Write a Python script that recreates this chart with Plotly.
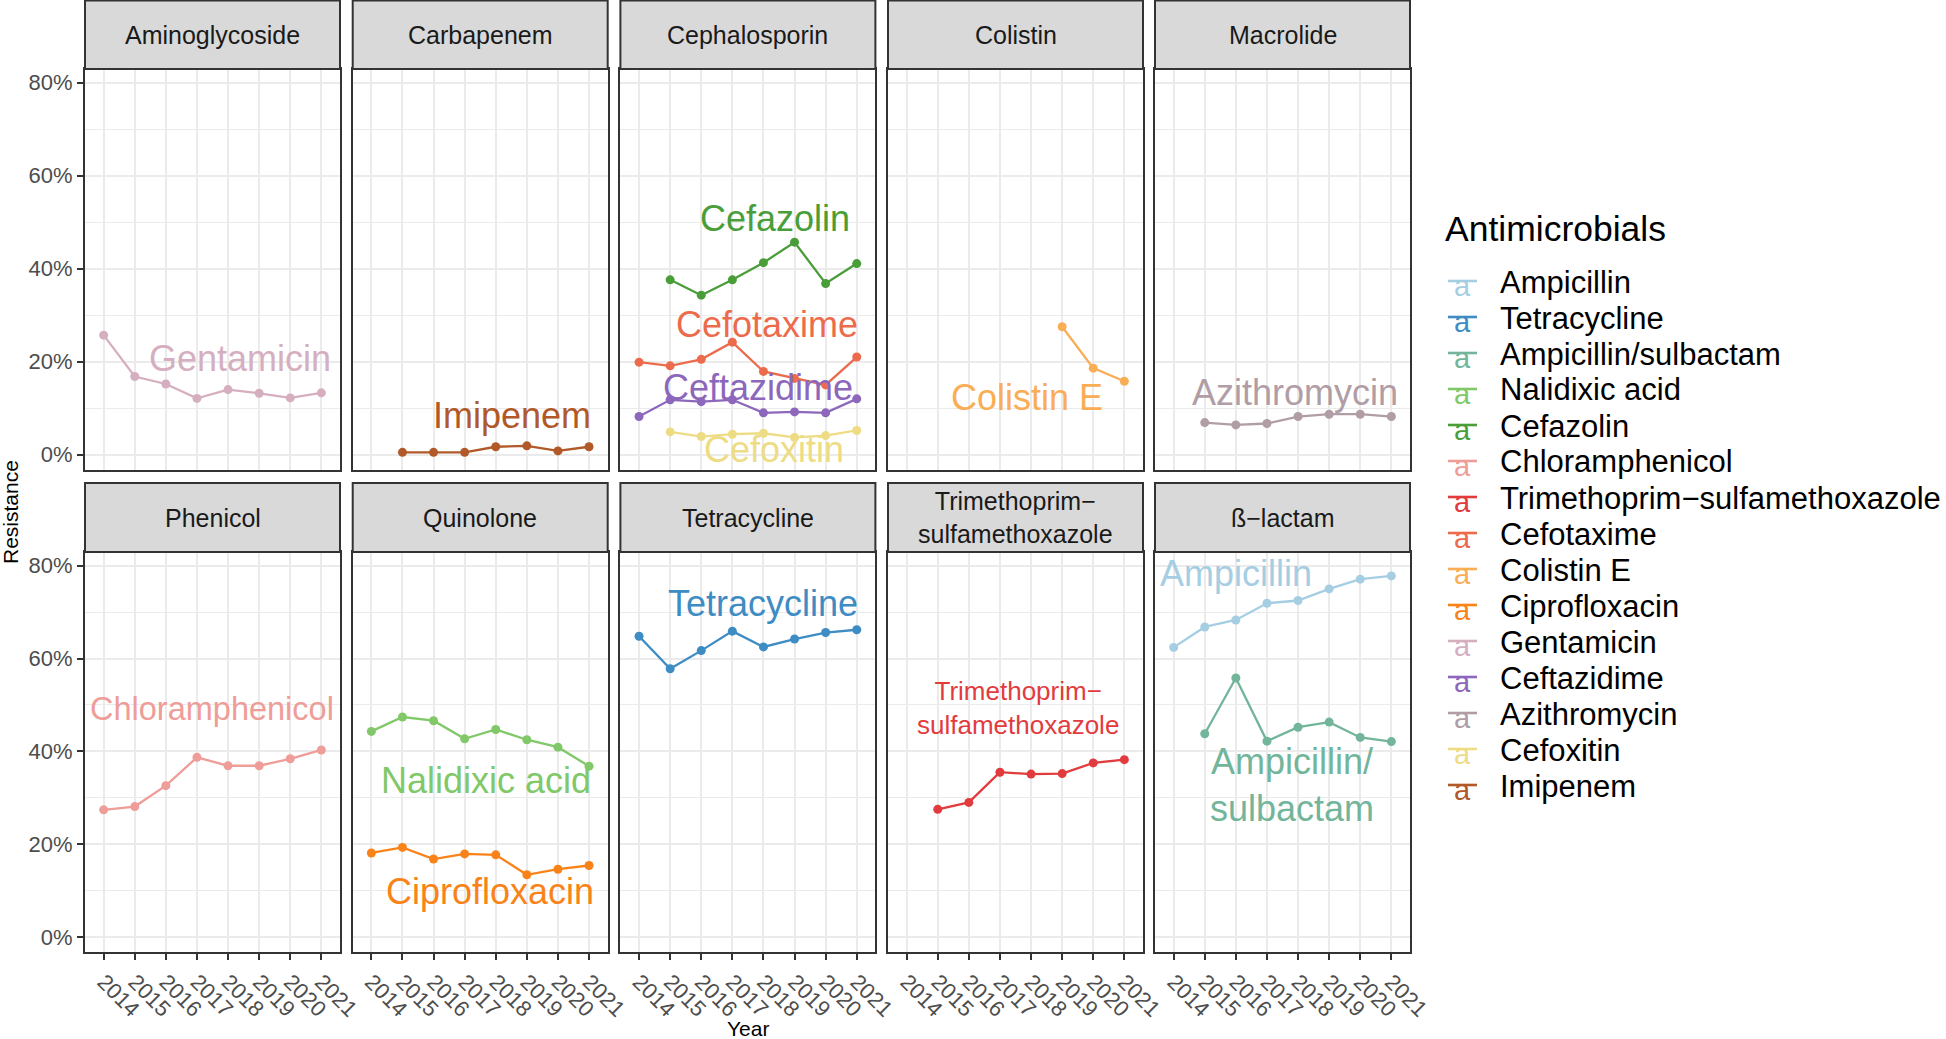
import plotly.graph_objects as go

# ---------------- data ----------------
years = [2014, 2015, 2016, 2017, 2018, 2019, 2020, 2021]

facets = ["Aminoglycoside", "Carbapenem", "Cephalosporin", "Colistin", "Macrolide",
          "Phenicol", "Quinolone", "Tetracycline",
          "Trimethoprim−<br>sulfamethoxazole", "ß−lactam"]

# legend order
antimicrobials = ["Ampicillin", "Tetracycline", "Ampicillin/sulbactam", "Nalidixic acid",
                  "Cefazolin", "Chloramphenicol", "Trimethoprim−sulfamethoxazole",
                  "Cefotaxime", "Colistin E", "Ciprofloxacin", "Gentamicin",
                  "Ceftazidime", "Azithromycin", "Cefoxitin", "Imipenem"]

drug_facet = [9, 7, 9, 6, 2, 5, 8, 2, 3, 6, 0, 2, 4, 2, 1]

colors = ["#A6CEE3", "#3E8CC4", "#72B59A", "#80C868", "#4A9E3A", "#EE9D98", "#E23B3E",
          "#EC6B4C", "#F9AE55", "#F98319", "#D5AFBF", "#8C67BB", "#B09DA5", "#EEDC85",
          "#B15928"]

# resistance (%) per year 2014..2021 (None = not tested)
ampicillin = [62.4, 66.8, 68.3, 71.9, 72.5, 75.0, 77.1, 77.8]
tetracycline = [64.8, 57.8, 61.7, 65.9, 62.5, 64.2, 65.6, 66.2]
ampicillin_sulbactam = [None, 43.8, 55.8, 42.2, 45.2, 46.3, 43.0, 42.1]
nalidixic_acid = [44.3, 47.4, 46.6, 42.7, 44.7, 42.5, 40.9, 36.8]
cefazolin = [None, 37.6, 34.3, 37.6, 41.3, 45.7, 36.8, 41.1]
chloramphenicol = [27.4, 28.1, 32.6, 38.7, 36.9, 36.9, 38.4, 40.3]
tmp_smx = [None, 27.5, 29.0, 35.5, 35.1, 35.2, 37.5, 38.2]
cefotaxime = [19.9, 19.1, 20.5, 24.2, 17.9, 16.4, 15.0, 21.0]
colistin_e = [None, None, None, None, None, 27.5, 18.6, 15.8]
ciprofloxacin = [18.1, 19.3, 16.8, 17.9, 17.7, 13.4, 14.6, 15.4]
gentamicin = [25.7, 16.8, 15.2, 12.1, 14.0, 13.2, 12.2, 13.3]
ceftazidime = [8.2, 11.8, 11.4, 11.8, 9.0, 9.2, 9.0, 12.0]
azithromycin = [None, 6.9, 6.4, 6.7, 8.2, 8.7, 8.7, 8.2]
cefoxitin = [None, 4.9, 3.9, 4.4, 4.6, 3.7, 4.1, 5.2]
imipenem = [None, 0.5, 0.5, 0.5, 1.7, 1.9, 0.8, 1.7]

series = [ampicillin, tetracycline, ampicillin_sulbactam, nalidixic_acid, cefazolin,
          chloramphenicol, tmp_smx, cefotaxime, colistin_e, ciprofloxacin, gentamicin,
          ceftazidime, azithromycin, cefoxitin, imipenem]

# in-panel direct labels (text, year position, resistance position)
label_text = ["Ampicillin", "Tetracycline", "Ampicillin/<br>sulbactam", "Nalidixic acid",
              "Cefazolin", "Chloramphenicol", "Trimethoprim−<br>sulfamethoxazole",
              "Cefotaxime", "Colistin E", "Ciprofloxacin", "Gentamicin", "Ceftazidime",
              "Azithromycin", "Cefoxitin", "Imipenem"]
label_year = [2016.0, 2018.0, 2017.8, 2017.7, 2018.37, 2017.48, 2017.57, 2018.1, 2017.87,
              2017.81, 2018.37, 2017.82, 2017.89, 2018.35, 2018.53]
label_value = [78.3, 71.9, 32.8, 33.7, 50.8, 49.2, 49.3, 27.9, 12.4, 9.7, 20.6, 14.5, 13.4,
               1.2, 8.4]
label_size = [36, 36, 36, 36, 36, 32.5, 26, 36, 36, 36, 36, 36, 36, 36, 36]

yticks = [0, 20, 40, 60, 80]
yticklabels = ["0%", "20%", "40%", "60%", "80%"]

# ---------------- layout geometry ----------------
W, H = 1946, 1039
FONT = "Liberation Sans, Arial, Helvetica, sans-serif"
panel_left = [85, 352.7, 620.4, 888, 1155]
panel_w = 255
row_strip = [(0.5, 69), (483, 552)]
row_panel = [(69, 470), (552, 952.3)]


def px(x):
    return x / W


def py(y):
    return 1 - y / H


fig = go.Figure()

for i, name in enumerate(antimicrobials):
    k = drug_facet[i] + 1
    fig.add_trace(go.Scatter(
        x=years, y=series[i], mode="lines+markers", name=name,
        line=dict(color=colors[i], width=2.3),
        marker=dict(color=colors[i], size=9),
        connectgaps=False, showlegend=False,
        xaxis="x" if k == 1 else f"x{k}", yaxis="y" if k == 1 else f"y{k}",
    ))

annotations = []
shapes = []
layout = {}
for f in range(10):
    r, c = divmod(f, 5)
    k = f + 1
    xs = "" if k == 1 else str(k)
    x0 = panel_left[c]
    layout[f"xaxis{xs}"] = dict(
        domain=[px(x0), px(x0 + panel_w)], range=[2013.4, 2021.6],
        tickvals=years, ticktext=[str(y) for y in years],
        showticklabels=(r == 1), ticks="outside" if r == 1 else "",
        ticklen=6, tickwidth=2, tickcolor="#333333", tickangle=45,
        tickfont=dict(family=FONT, size=22, color="#4D4D4D"),
        showgrid=True, gridcolor="#EBEBEB", gridwidth=2, zeroline=False,
        showline=True, mirror=True, linecolor="#333333", linewidth=2,
        anchor=f"y{xs}" if xs else "y", fixedrange=True,
    )
    yt, yb = row_panel[r]
    layout[f"yaxis{xs}"] = dict(
        domain=[py(yb), py(yt)], range=[-3.3, 82.95],
        tickvals=yticks, ticktext=yticklabels,
        showticklabels=(c == 0), ticks="outside" if c == 0 else "",
        ticklen=6, tickwidth=2, tickcolor="#333333",
        tickfont=dict(family=FONT, size=22, color="#4D4D4D"),
        showgrid=True, gridcolor="#EBEBEB", gridwidth=2, zeroline=False,
        minor=dict(tickvals=[10, 30, 50, 70], showgrid=True, gridcolor="#EBEBEB",
                   gridwidth=1, ticks=""),
        showline=True, mirror=True, linecolor="#333333", linewidth=2,
        anchor=f"x{xs}" if xs else "x", fixedrange=True,
    )
    st, sb = row_strip[r]
    shapes.append(dict(type="rect", xref="paper", yref="paper",
                       x0=px(x0), x1=px(x0 + panel_w), y0=py(sb), y1=py(st),
                       fillcolor="#D9D9D9", line=dict(color="#333333", width=2),
                       layer="above"))
    annotations.append(dict(text=facets[f], xref="paper", yref="paper",
                            x=px(x0 + panel_w / 2), y=py((st + sb) / 2),
                            xanchor="center", yanchor="middle", showarrow=False,
                            font=dict(family=FONT, size=25, color="#1A1A1A")))

# direct labels in panels
for i in range(len(antimicrobials)):
    k = drug_facet[i] + 1
    xs = "" if k == 1 else str(k)
    annotations.append(dict(text=label_text[i], x=label_year[i], y=label_value[i],
                            xref=f"x{xs}", yref=f"y{xs}", showarrow=False,
                            xanchor="center", yanchor="middle",
                            font=dict(family=FONT, size=label_size[i], color=colors[i])))

# axis titles
annotations.append(dict(text="Year", xref="paper", yref="paper", x=px(747.5), y=py(1028),
                        xanchor="center", yanchor="middle", showarrow=False,
                        font=dict(family=FONT, size=21, color="#000000")))
annotations.append(dict(text="Resistance", xref="paper", yref="paper", x=px(11), y=py(512),
                        xanchor="center", yanchor="middle", showarrow=False, textangle=-90,
                        font=dict(family=FONT, size=21, color="#000000")))

# custom legend (ggplot-like keys: line + "a")
annotations.append(dict(text="Antimicrobials", xref="paper", yref="paper",
                        x=px(1443), y=py(229), xanchor="left", yanchor="middle",
                        showarrow=False, font=dict(family=FONT, size=35.5, color="#000000")))
for i, name in enumerate(antimicrobials):
    yc = 282 + 36.0 * i
    shapes.append(dict(type="line", xref="paper", yref="paper",
                       x0=px(1448), x1=px(1477), y0=py(yc - 1), y1=py(yc - 1),
                       line=dict(color=colors[i], width=2.6)))
    annotations.append(dict(text="a", xref="paper", yref="paper", x=px(1462.5), y=py(yc + 4),
                            xanchor="center", yanchor="middle", showarrow=False,
                            font=dict(family=FONT, size=29, color=colors[i])))
    annotations.append(dict(text=name, xref="paper", yref="paper", x=px(1498), y=py(yc),
                            xanchor="left", yanchor="middle", showarrow=False,
                            font=dict(family=FONT, size=31, color="#000000")))

fig.update_layout(
    width=W, height=H, margin=dict(l=0, r=0, t=0, b=0, autoexpand=False),
    autosize=False,
    paper_bgcolor="white", plot_bgcolor="white",
    showlegend=False, annotations=annotations, shapes=shapes,
    font=dict(family=FONT),
    **layout,
)

fig.write_html("out.html", config={"displayModeBar": False, "responsive": False},
               post_script="document.documentElement.style.margin='0';"
                           "document.documentElement.style.overflow='hidden';"
                           "document.body.style.margin='0';document.body.style.overflow='hidden';")
